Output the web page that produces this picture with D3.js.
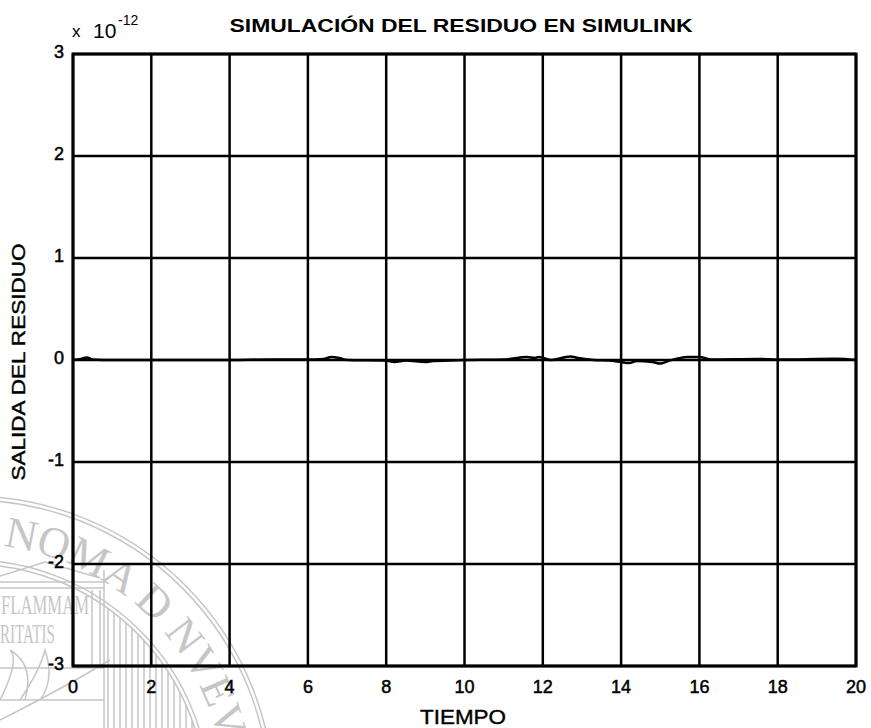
<!DOCTYPE html>
<html>
<head>
<meta charset="utf-8">
<script src="https://cdn.jsdelivr.net/npm/d3@7"></script>
<style>
  body { margin: 0; background: #fff; }
  svg { display: block; font-family: "Liberation Sans", Arial, sans-serif; }
</style>
</head>
<body>
<div id="chart"></div>
<script>
// data (residuo in units of 1e-12)
var tiempo  = [0, 0.2, 0.35, 0.5, 1, 2, 3, 4, 5, 6, 6.4, 6.6, 6.8, 7, 8, 8.2, 8.5, 9, 9.2, 10,
               11, 11.6, 11.8, 11.9, 12.2, 12.7, 12.9, 13.3, 13.7, 14, 14.2, 14.4, 14.8, 15, 15.2,
               15.7, 16, 16.3, 17.5, 18, 19.5, 20];
var residuo = [0, 0.01, 0.025, 0.005, 0, 0, 0, 0, 0.005, 0.005, 0.01, 0.03, 0.02, 0, -0.005, -0.02, -0.005, -0.02, -0.01, 0,
               0.005, 0.03, 0.02, 0.03, 0, 0.035, 0.02, 0, -0.005, -0.02, -0.03, -0.01, -0.02, -0.035, -0.01,
               0.03, 0.03, 0.005, 0.01, 0.005, 0.012, 0];
var xTicks = [0, 2, 4, 6, 8, 10, 12, 14, 16, 18, 20];
var yTicks = [-3, -2, -1, 0, 1, 2, 3];

var titulo = "SIMULACIÓN DEL RESIDUO EN SIMULINK",
    xLabel = "TIEMPO",
    yLabel = "SALIDA DEL RESIDUO";

var W = 871, H = 728;
var margin = {top: 54, right: 15, bottom: 62, left: 73};
var grey = "#c6c6c6";

var svg = d3.select("#chart").append("svg")
  .attr("width", W).attr("height", H);

// faint seal watermark in the lower left (scanned page background)
var seal = svg.append("g");
var cx = -30, cy = 800;
var ring = seal.append("g").attr("fill", "none").attr("stroke", grey).attr("stroke-width", 1.5);
[304, 300, 240, 236].forEach(function(r) {
  ring.append("circle").attr("cx", cx).attr("cy", cy).attr("r", r);
});
svg.append("clipPath").attr("id", "inner")
  .append("circle").attr("cx", cx).attr("cy", cy).attr("r", 236);
var hatch = seal.append("g").attr("clip-path", "url(#inner)")
  .attr("stroke", grey).attr("stroke-width", 1.5);
d3.range(108, 200, 6).forEach(function(px) {
  hatch.append("line").attr("x1", px).attr("x2", px).attr("y1", 572).attr("y2", 728);
});
d3.range(4, 100, 6).forEach(function(px) {
  hatch.append("line").attr("x1", px).attr("x2", px).attr("y1", 548).attr("y2", 566);
});
ring.append("path").attr("d", "M0,576 L45,562 L100,578 M0,582 L104,582 M0,588 L104,588 " +
  "M0,668 L104,668 M92,590 L92,668 M100,590 L100,668 M104,570 L104,728 M0,700 L104,700");
ring.append("path").attr("d", "M0,700 Q20,660 10,650 Q35,665 25,700 M20,700 Q40,670 45,650 " +
  "Q55,680 40,700 M0,720 Q60,690 110,660");

function arcPath(r, a0, a1) {
  var t0 = a0 * Math.PI / 180, t1 = a1 * Math.PI / 180;
  return "M" + (cx + r * Math.cos(t0)) + "," + (cy + r * Math.sin(t0)) +
    " A" + r + "," + r + " 0 0 1 " + (cx + r * Math.cos(t1)) + "," + (cy + r * Math.sin(t1));
}
svg.append("path").attr("id", "sealArc").attr("fill", "none").attr("d", arcPath(256, -100, 0));
seal.append("text").attr("fill", grey)
  .style("font-family", "'Liberation Serif', serif").style("font-size", "44px")
  .append("textPath").attr("href", "#sealArc").attr("startOffset", 78)
  .text("NOMA D NVEVO");
seal.append("text").attr("x", 1).attr("y", 614).attr("fill", grey)
  .attr("textLength", 88).attr("lengthAdjust", "spacingAndGlyphs")
  .style("font-family", "'Liberation Serif', serif").style("font-size", "28px").text("FLAMMAM");
seal.append("text").attr("x", 0).attr("y", 643).attr("fill", grey)
  .attr("textLength", 55).attr("lengthAdjust", "spacingAndGlyphs")
  .style("font-family", "'Liberation Serif', serif").style("font-size", "28px").text("RITATIS");

var x = d3.scaleLinear().domain([0, 20]).range([margin.left, W - margin.right]);
var y = d3.scaleLinear().domain([-3, 3]).range([H - margin.bottom, margin.top]);

// grid
svg.append("g").selectAll("line").data(xTicks).join("line")
  .attr("x1", function(d) { return x(d); }).attr("x2", function(d) { return x(d); })
  .attr("y1", y(-3)).attr("y2", y(3))
  .attr("stroke", "#000").attr("stroke-width", 2.5);
svg.append("g").selectAll("line").data(yTicks).join("line")
  .attr("y1", function(d) { return y(d); }).attr("y2", function(d) { return y(d); })
  .attr("x1", x(0)).attr("x2", x(20))
  .attr("stroke", "#000").attr("stroke-width", 2.5);

// frame
svg.append("rect")
  .attr("x", x(0)).attr("y", y(3))
  .attr("width", x(20) - x(0)).attr("height", y(-3) - y(3))
  .attr("fill", "none").attr("stroke", "#000").attr("stroke-width", 3);

// residue line
var line = d3.line()
  .x(function(d, i) { return x(tiempo[i]); })
  .y(function(d) { return y(d); })
  .curve(d3.curveMonotoneX);
svg.append("path").datum(residuo)
  .attr("d", line).attr("fill", "none")
  .attr("stroke", "#000").attr("stroke-width", 2.5);

// tick labels
svg.append("g").selectAll("text").data(xTicks).join("text")
  .attr("x", function(d) { return x(d); }).attr("y", 693)
  .attr("text-anchor", "middle")
  .style("font-size", "18px").attr("stroke", "#000").attr("stroke-width", 0.5)
  .text(function(d) { return d; });
svg.append("g").selectAll("text").data(yTicks).join("text")
  .attr("x", 64).attr("y", function(d) { return y(d) + 4; })
  .attr("text-anchor", "end")
  .style("font-size", "18px").attr("stroke", "#000").attr("stroke-width", 0.5)
  .text(function(d) { return d; });

// exponent
svg.append("text").attr("x", 72).attr("y", 37).style("font-size", "17px").text("x");
svg.append("text").attr("x", 93).attr("y", 38).style("font-size", "21px").text("10");
svg.append("text").attr("x", 118).attr("y", 25).style("font-size", "14px").text("-12");

// titles
svg.append("text").attr("x", 461).attr("y", 32).attr("text-anchor", "middle")
  .attr("textLength", 463).attr("lengthAdjust", "spacingAndGlyphs")
  .style("font-size", "18px").style("font-weight", "bold")
  .text(titulo);
svg.append("text").attr("x", 463).attr("y", 724).attr("text-anchor", "middle")
  .attr("textLength", 86).attr("lengthAdjust", "spacingAndGlyphs")
  .style("font-size", "21px").attr("stroke", "#000").attr("stroke-width", 0.4)
  .text(xLabel);
svg.append("text")
  .attr("transform", "translate(25,362) rotate(-90)")
  .attr("text-anchor", "middle")
  .attr("textLength", 237).attr("lengthAdjust", "spacingAndGlyphs")
  .style("font-size", "19px").attr("stroke", "#000").attr("stroke-width", 0.4)
  .text(yLabel);
</script>
</body>
</html>
